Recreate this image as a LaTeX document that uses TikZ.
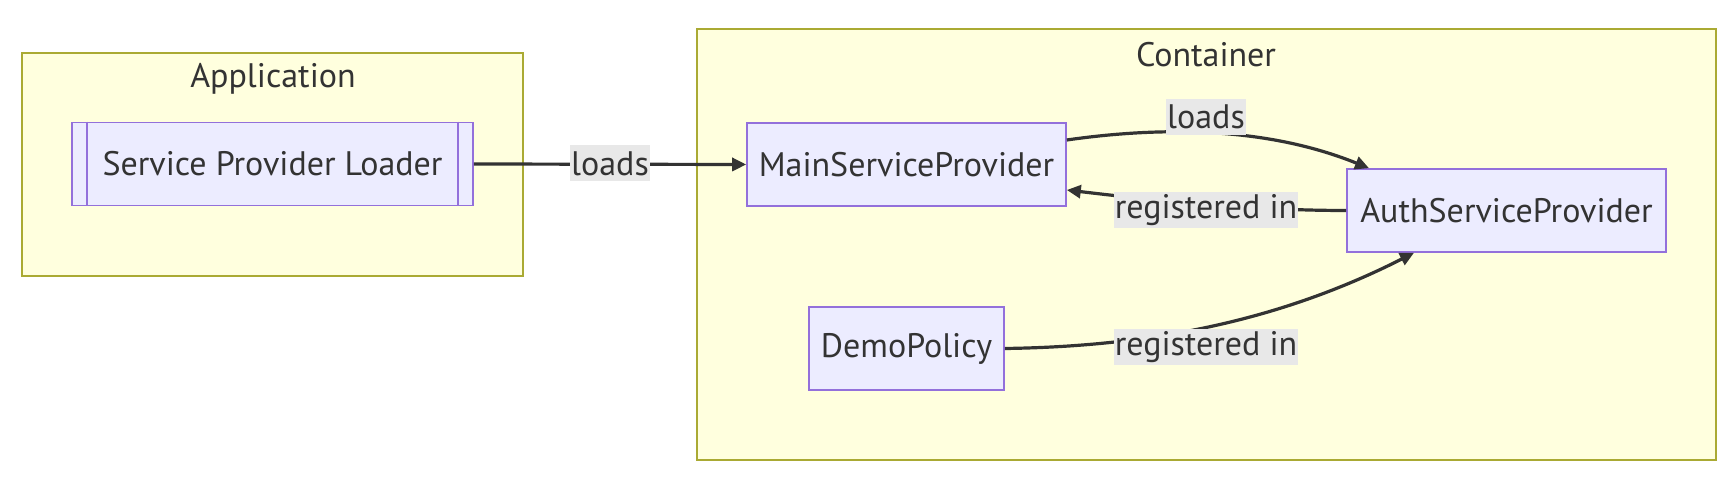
\documentclass[tikz,border=0pt]{standalone}
\usepackage{fontspec}
\setmainfont{PT Sans}
\usetikzlibrary{arrows.meta}
\definecolor{clfill}{HTML}{FFFFDE}
\definecolor{clline}{HTML}{AAAA33}
\definecolor{nfill}{HTML}{ECECFF}
\definecolor{nline}{HTML}{9370DB}
\definecolor{lblbg}{HTML}{E8E8E8}
\definecolor{ink}{HTML}{333333}
\begin{document}
\begin{tikzpicture}[x=0.5pt,y=0.5pt,
	cluster/.style={draw=clline,fill=clfill,line width=0.8pt},
	ctitle/.style={text=ink,font=\fontsize{17}{20}\selectfont},
	box/.style={draw=nline,fill=nfill,line width=0.8pt,text=ink,
		font=\fontsize{17}{20}\selectfont,minimum height=41.5pt,inner sep=0pt},
	lbl/.style={fill=lblbg,text=ink,font=\fontsize{17}{20}\selectfont,
		inner xsep=0.5pt,inner ysep=0pt,minimum height=18pt},
	edge/.style={draw=ink,line width=1.6pt,-{Triangle[length=7pt,width=6.5pt]}}]
	% Rahmen
	\useasboundingbox (0,0) rectangle (1732,-490);
	\draw[cluster] (22,-53) rectangle (523,-276);
	\draw[cluster] (697,-29) rectangle (1716,-460);
	\node[ctitle] (app) at (273,-79) {Application};
	\node[ctitle] (cont) at (1206,-55) {Container};
	% Knoten
	\node[box,minimum width=200.5pt] (loader) at (272.5,-164) {Service Provider Loader};
	\draw[draw=nline,line width=0.8pt] ([xshift=8pt]loader.north west) -- ([xshift=8pt]loader.south west)
		([xshift=-8pt]loader.north east) -- ([xshift=-8pt]loader.south east);
	\node[box,minimum width=159.5pt] (main) at (906.5,-164.5) {MainServiceProvider};
	\node[box,minimum width=159.5pt] (auth) at (1506.5,-210.5) {AuthServiceProvider};
	\node[box,minimum width=97.5pt] (demo) at (906.5,-348.5) {DemoPolicy};
	% Verbindungen
	\draw[edge] (loader.east) -- (main.west);
	\draw[edge] ([yshift=12.25pt]main.east) .. controls +(84,12) and +(-109,44) .. ([xshift=-68.75pt]auth.north);
	\draw[edge] (auth.west) .. controls +(-97,0) and +(84,-10) .. ([yshift=-12.75pt]main.east);
	\draw[edge] (demo.east) .. controls +(146,2) and +(-134,-68) .. ([xshift=-46.25pt]auth.south);
	% Beschriftungen
	\node[lbl] (l1) at (610,-163.5) {loads};
	\node[lbl] (l2) at (1206,-117) {loads};
	\node[lbl] (l3) at (1206,-210) {registered in};
	\node[lbl] (l4) at (1206,-347.5) {registered in};
\end{tikzpicture}
\end{document}
